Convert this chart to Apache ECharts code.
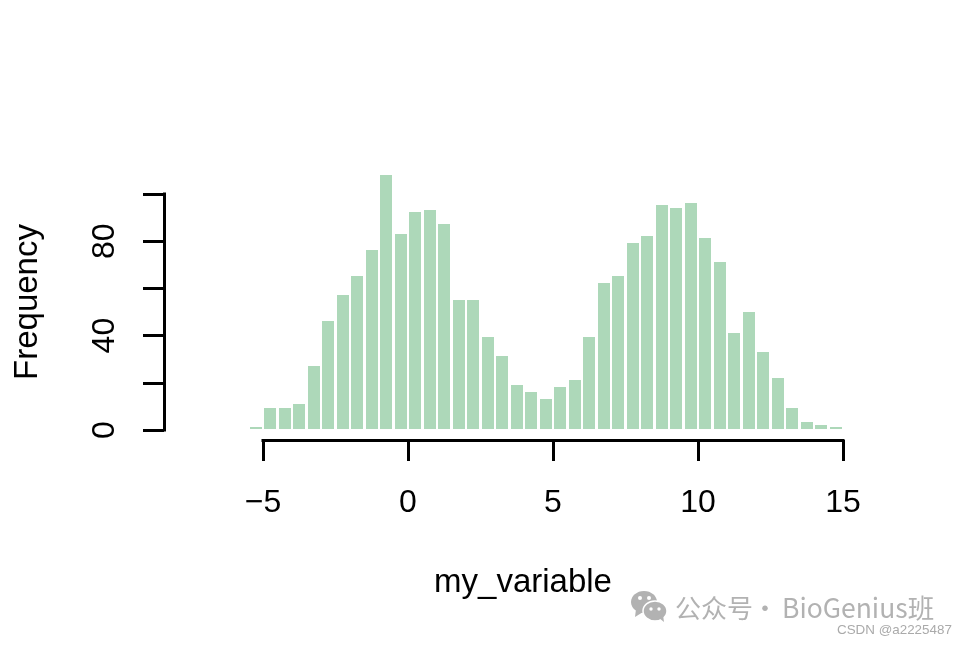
<!DOCTYPE html>
<html>
<head>
<meta charset="utf-8">
<title>Histogram of my_variable</title>
<style>
  html, body { margin: 0; padding: 0; background: #fff; }
  #chart { width: 967px; height: 645px; }
</style>
</head>
<body>
<div id="chart"></div>
<script src="https://cdn.jsdelivr.net/npm/echarts@6/dist/echarts.min.js"></script>
<script>
// left edge of every histogram bin, the last bin closes at 15
const binStarts = [
  -5.5, -5, -4.5, -4, -3.5, -3, -2.5, -2, -1.5, -1, -0.5, 0, 0.5, 1, 1.5, 2, 2.5, 3, 3.5, 4, 4.5,
  5, 5.5, 6, 6.5, 7, 7.5, 8, 8.5, 9, 9.5, 10, 10.5, 11, 11.5, 12, 12.5, 13, 13.5, 14, 14.5
]
const binWidth = 0.5
const counts = [
  1, 9, 9, 11, 27, 46, 57, 65, 76, 108, 83, 92, 93, 87, 55, 55, 39, 31, 19, 16, 13,
  18, 21, 39, 62, 65, 79, 82, 95, 94, 96, 81, 71, 41, 50, 33, 22, 9, 3, 2, 1
]
const xTicks = [-5, 0, 5, 10, 15]
const yLabels = [0, 40, 80]

const font = '"Liberation Sans", Arial, sans-serif'
const cjkFont = '"Noto Sans CJK SC", "Noto Sans", sans-serif'
const barColor = '#add8b9'
const markColor = '#b2b2b2'

const chart = echarts.init(document.getElementById('chart'), null, { renderer: 'canvas' })

// one histogram bar: white gap of about 1.5px on each side, like border="white"
function renderBar(params, api) {
  const start = api.value(0)
  const topLeft = api.coord([start, api.value(2)])
  const baseRight = api.coord([api.value(1), 0])
  const x0 = Math.round(topLeft[0] + 1.4)
  const x1 = Math.round(baseRight[0] - 1.4)
  const y0 = Math.floor(topLeft[1])
  const y1 = Math.round(baseRight[1] - 1)
  return {
    type: 'rect',
    shape: { x: x0, y: y0, width: x1 - x0, height: y1 - y0 },
    style: { fill: barColor }
  }
}

const axisLine = { show: true, onZero: false, lineStyle: { color: '#000', width: 3, cap: 'square' } }
const axisTick = { show: true, length: 21, lineStyle: { color: '#000', width: 3 } }

// small helper for the gray watermark pieces
const markText = (text, x, size) => ({
  type: 'text',
  x,
  y: 608,
  style: { text, font: size + 'px ' + cjkFont, fill: markColor, align: 'left', verticalAlign: 'middle' }
})

const option = {
  backgroundColor: '#fff',
  animation: false,
  grid: { left: 263, right: 124, top: 194, bottom: 215 },
  xAxis: {
    type: 'value',
    min: -5,
    max: 15,
    interval: 5,
    offset: 10,
    splitLine: { show: false },
    axisLine,
    axisTick,
    axisLabel: {
      margin: 47,
      color: '#000',
      fontFamily: font,
      fontSize: 32,
      showMinLabel: true,
      showMaxLabel: true,
      formatter: v => (xTicks.includes(v) ? String(v).replace('-', '\u2212') : '')
    }
  },
  yAxis: {
    type: 'value',
    min: 0,
    max: 100,
    interval: 20,
    offset: 99,
    splitLine: { show: false },
    axisLine,
    axisTick,
    axisLabel: {
      margin: 59,
      rotate: 90,
      color: '#000',
      fontFamily: font,
      fontSize: 32,
      verticalAlign: 'middle',
      align: 'center',
      formatter: v => (yLabels.includes(v) ? String(v) : '')
    }
  },
  series: [
    {
      type: 'custom',
      coordinateSystem: 'cartesian2d',
      clip: false,
      renderItem: renderBar,
      encode: { x: [0, 1], y: 2 },
      data: binStarts.map((s, i) => [s, s + binWidth, counts[i]])
    }
  ],
  graphic: [
    // axis titles
    {
      type: 'text',
      x: 523,
      y: 583,
      style: {
        text: 'my_variable',
        font: '33px ' + font,
        fill: '#000',
        align: 'center',
        verticalAlign: 'middle'
      }
    },
    {
      type: 'text',
      x: 28,
      y: 302,
      rotation: Math.PI / 2,
      style: {
        text: 'Frequency',
        font: '33px ' + font,
        fill: '#000',
        align: 'center',
        verticalAlign: 'middle'
      }
    },
    // watermark: chat bubbles
    { type: 'ellipse', shape: { cx: 644, cy: 602, rx: 13, ry: 11 }, style: { fill: markColor } },
    { type: 'polygon', shape: { points: [[636, 609], [635, 617], [643, 612]] }, style: { fill: markColor } },
    { type: 'ellipse', shape: { cx: 655, cy: 611, rx: 12, ry: 10 }, style: { fill: markColor, stroke: '#fff', lineWidth: 1.5 } },
    { type: 'polygon', shape: { points: [[659, 618], [664, 622], [663, 615]] }, style: { fill: markColor } },
    { type: 'circle', shape: { cx: 640, cy: 598, r: 2 }, style: { fill: '#fff' } },
    { type: 'circle', shape: { cx: 649, cy: 598, r: 2 }, style: { fill: '#fff' } },
    { type: 'circle', shape: { cx: 651, cy: 609, r: 1.7 }, style: { fill: '#fff' } },
    { type: 'circle', shape: { cx: 659, cy: 609, r: 1.7 }, style: { fill: '#fff' } },
    // watermark: text
    markText('公众号', 675, 26),
    markText('·', 752, 26),
    markText('BioGenius班', 782, 26.5),
    {
      type: 'text',
      x: 837,
      y: 630,
      style: {
        text: 'CSDN @a2225487',
        font: '13.4px ' + font,
        fill: '#aaaaaa',
        align: 'left',
        verticalAlign: 'middle'
      }
    }
  ]
}

chart.setOption(option)
</script>
</body>
</html>
